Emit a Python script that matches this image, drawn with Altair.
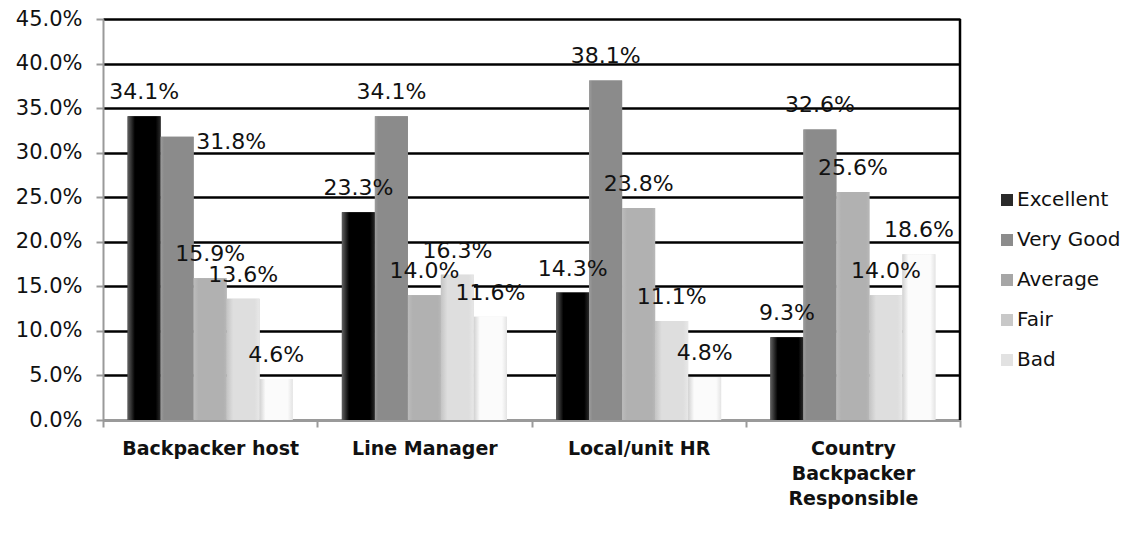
import altair as alt
import pandas as pd

categories = ["Backpacker host", "Line Manager", "Local/unit HR", "Country Backpacker Responsible"]
series = ["Excellent", "Very Good", "Average", "Fair", "Bad"]
excellent = [34.1, 23.3, 14.3, 9.3]
very_good = [31.8, 34.1, 38.1, 32.6]
average = [15.9, 14.0, 23.8, 25.6]
fair = [13.6, 16.3, 11.1, 14.0]
bad = [4.6, 11.6, 4.8, 18.6]

values = {"Excellent": excellent, "Very Good": very_good, "Average": average, "Fair": fair, "Bad": bad}
rows = []
for s in series:
    for c, v in zip(categories, values[s]):
        rows.append({"category": c, "series": s, "pct": v})
df = pd.DataFrame(rows)

legend_colors = ["#2a2a2a", "#8c8c8c", "#a6a6a6", "#c8c8c8", "#e2e2e2"]

def grad(stops):
    return alt.LinearGradient(
        gradient="linear", x1=0, x2=1, y1=0, y2=0,
        stops=[alt.GradientStop(offset=o, color=c) for o, c in stops],
    )

g_ex = grad([(0, "#606060"), (0.22, "#000000"), (0.85, "#000000"), (1, "#2a2a2a")])
g_vg = grad([(0, "#9c9c9c"), (0.1, "#8b8b8b"), (1, "#8b8b8b")])
g_av = grad([(0, "#bcbcbc"), (0.15, "#b1b1b1"), (0.9, "#b1b1b1"), (1, "#b8b8b8")])
g_fa = grad([(0, "#c4c4c4"), (0.2, "#dedede"), (0.85, "#dedede"), (1, "#e8e8e8")])
g_ba = grad([(0, "#d2d2d2"), (0.18, "#fbfbfb"), (0.85, "#fbfbfb"), (1, "#e4e4e4")])

font = "DejaVu Sans"

base = alt.Chart(df).transform_calculate(
    v="datum.pct / 100",
    ex="datum.series === 'Excellent' ? datum.pct : 0",
).transform_joinaggregate(
    ex_val="sum(ex)", groupby=["category"]
).transform_calculate(
    nudge="datum.series === 'Very Good' && abs(datum.ex_val - datum.pct) < 3 ? 1 : 0"
)

x_enc = alt.X(
    "category:N", sort=categories, title=None,
    scale=alt.Scale(paddingInner=0, paddingOuter=0),
    axis=alt.Axis(
        labelAngle=0, labelFont=font, labelFontWeight="bold", labelFontSize=19,
        labelColor="#111", labelPadding=12, labelLineHeight=25, labelBaseline="top",
        labelExpr="length(datum.label) > 20 ? split(datum.label, ' ') : datum.label",
        tickBand="extent", tickSize=7, tickColor="#9a9a9a", tickWidth=2,
        domainColor="#9a9a9a", domainWidth=3, grid=False, labelLimit=300,
    ),
)
xo_enc = alt.XOffset("series:N", sort=series,
                     scale=alt.Scale(domain=series, paddingOuter=0.746, paddingInner=0))
y_enc = alt.Y(
    "v:Q", title=None,
    scale=alt.Scale(domain=[0, 0.45], nice=False),
    axis=alt.Axis(
        format=".1%", values=[i * 0.05 for i in range(10)],
        labelFont=font, labelFontSize=21, labelColor="#111", labelPadding=14,
        tickSize=7, tickColor="#9a9a9a", tickWidth=2, domainColor="#9a9a9a", domainWidth=2,
        grid=True, gridColor="#000000", gridWidth=2.5,
    ),
)

legend_bars = base.mark_bar().encode(
    x=x_enc, xOffset=xo_enc, y=y_enc,
    color=alt.Color(
        "series:N", sort=series,
        scale=alt.Scale(domain=series, range=legend_colors),
        legend=alt.Legend(
            title=None, orient="none", legendX=894, legendY=171,
            symbolType="square", symbolSize=144, symbolStrokeWidth=0,
            labelFont=font, labelFontSize=20, labelColor="#111", labelOffset=0,
            rowPadding=20, padding=0,
        ),
    ),
)

grad_bars = base.mark_bar().encode(
    x=alt.X("category:N", sort=categories),
    xOffset=alt.XOffset("series:N", sort=series),
    y=alt.Y("v:Q"),
    fill=alt.FillValue(
        value=g_ba,
        condition=[
            {"test": "datum.series === 'Excellent'", "value": g_ex},
            {"test": "datum.series === 'Very Good'", "value": g_vg},
            {"test": "datum.series === 'Average'", "value": g_av},
            {"test": "datum.series === 'Fair'", "value": g_fa},
        ],
    ),
)

label_enc = dict(
    x=alt.X("category:N", sort=categories),
    xOffset=alt.XOffset("series:N", sort=series),
    y=alt.Y("v:Q"),
    text=alt.Text("v:Q", format=".1%"),
)
labels = base.transform_filter("datum.nudge === 0").mark_text(
    font=font, fontSize=22, color="#111", baseline="alphabetic", dy=-17
).encode(**label_enc)
labels_nudged = base.transform_filter("datum.nudge === 1").mark_text(
    font=font, fontSize=22, color="#111", baseline="alphabetic", dx=54, dy=12
).encode(**label_enc)

border = alt.Chart(pd.DataFrame({"k": [0]})).mark_rule(color="#000", strokeWidth=2.5).encode(
    x=alt.value(857), y=alt.value(0), y2=alt.value(401)
)

chart = alt.layer(legend_bars, grad_bars, labels, labels_nudged, border).properties(
    width=857, height=401,
    autosize=alt.AutoSizeParams(type="none"),
    padding={"left": 95, "top": 11, "right": 168, "bottom": 100},
).configure_view(stroke=None).configure(background="white")

chart.save("out.html", embed_options={"renderer": "svg", "actions": False})
